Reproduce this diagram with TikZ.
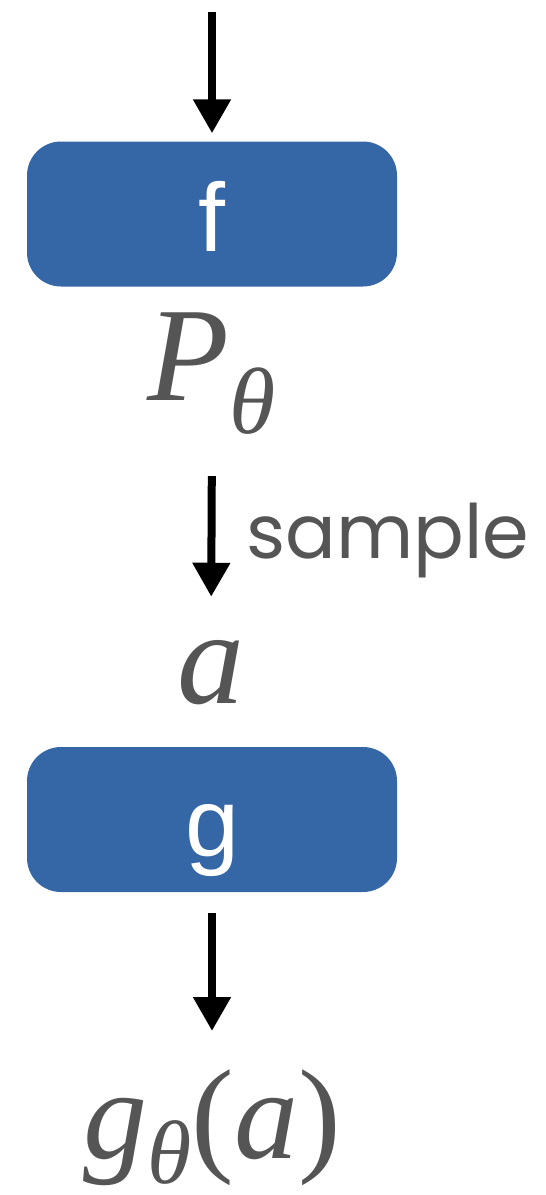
\documentclass[tikz,border=0pt]{standalone}
\usepackage{fontspec}
\setmainfont{Liberation Serif}
\newfontfamily\boxfont{Liberation Sans}
\newfontfamily\handfont{Poppins}
\usetikzlibrary{arrows.meta,positioning}
\definecolor{boxblue}{HTML}{3566A5}
\definecolor{labgray}{HTML}{555555}

\begin{document}
\begin{tikzpicture}[x=1pt,y=-1pt,line join=round,
  fbox/.style={fill=boxblue,text=white,rounded corners=34pt,
    minimum width=370pt,minimum height=145pt,inner sep=0pt,
    text height=80pt,text depth=6pt,font=\boxfont\fontsize{97}{97}\selectfont},
  mathlab/.style={text=labgray,inner sep=0pt,font=\itshape\fontsize{134}{134}\selectfont},
  handlab/.style={text=labgray,inner sep=0pt,font=\handfont\fontsize{75}{75}\selectfont},
  flow/.style={-{Triangle[width=36pt,length=34pt]},line width=8pt}]
  \useasboundingbox (0,0) rectangle (546,1195);

  % ---------- the two blocks ----------
  \node[fbox] (f) at (212,214) {f};
  \node[fbox] (g) at (212,819.5) {g};

  % ---------- labels between them ----------
  \node[mathlab,anchor=base] (pth) at (212,400)
    {P\raisebox{-33pt}{\fontsize{94}{94}\selectfont θ}};
  \node[mathlab,anchor=base] (a) at (211,703) {a};
  \node[handlab,anchor=base west] (smp) at (246,558) {sample};
  \node[mathlab,anchor=base,font=\itshape\fontsize{128}{128}\selectfont] (out) at (212,1158)
    {g\raisebox{-25pt}{\fontsize{90}{90}\selectfont θ}%
     {\upshape(}a{\upshape)}};

  % ---------- arrows ----------
  \coordinate (in) at (212,12);
  \draw[flow,shorten >=8pt] (in) -- (f.north);
  \draw[flow,shorten <=42pt,shorten >=43pt] (pth.south) -- (a.north);
  \draw[flow,shorten <=21pt,shorten >=38pt] (g.south) -- (out.north);
\end{tikzpicture}
\end{document}
